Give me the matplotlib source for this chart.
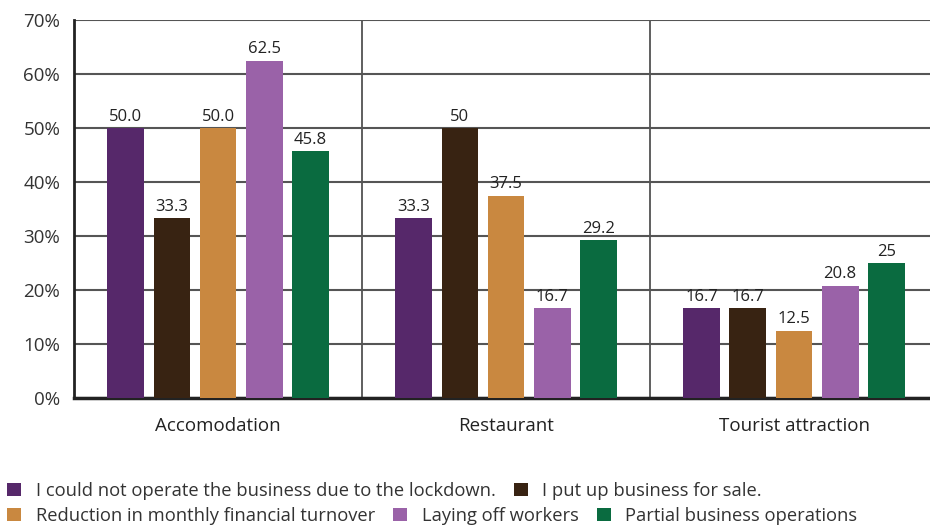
import numpy as np
import matplotlib.pyplot as plt
from matplotlib.patches import Patch

plt.rcParams['font.family'] = ['Open Sans', 'DejaVu Sans']

categorias = ['Accomodation', 'Restaurant', 'Tourist attraction']
series = [
    'I could not operate the business due to the lockdown.',
    'I put up business for sale.',
    'Reduction in monthly financial turnover',
    'Laying off workers',
    'Partial business operations',
]
valores = [
    [50.0, 33.3, 16.7],
    [33.3, 50.0, 16.7],
    [50.0, 37.5, 12.5],
    [62.5, 16.7, 20.8],
    [45.8, 29.2, 25.0],
]
rotulos = [
    ['50.0', '33.3', '16.7'],
    ['33.3', '50', '16.7'],
    ['50.0', '37.5', '12.5'],
    ['62.5', '16.7', '20.8'],
    ['45.8', '29.2', '25'],
]
cores = ['#56286A', '#382312', '#C98840', '#9A62A8', '#0A6B40']

fig = plt.figure(figsize=(9.3, 5.27), dpi=100)
ax = fig.add_axes([0.0796, 0.2448, 0.929, 0.717])

x = np.arange(len(categorias))
passo = 0.16
largura = 0.128
for i, (vals, labs) in enumerate(zip(valores, rotulos)):
    pos = x + (i - 2) * passo
    ax.bar(pos, vals, width=largura, color=cores[i], zorder=3)
    for px, v, t in zip(pos, vals, labs):
        ax.text(px, v + 0.6, t, ha='center', va='bottom', fontsize=12,
                color='#222222', zorder=4)

ax.set_xlim(-0.5, 2.5)
ax.set_ylim(0, 70)
ax.set_yticks(np.arange(0, 71, 10))
ax.set_yticklabels([f'{v}%' for v in range(0, 71, 10)], fontsize=13.5, color='#333333')
ax.set_xticks(x)
ax.set_xticklabels(categorias, fontsize=13.5, color='#222222')
ax.tick_params(axis='x', length=0, pad=14)
ax.tick_params(axis='y', length=0, pad=10)

ax.grid(axis='y', color='#555555', linewidth=1.5, zorder=0)
for b in [0.5, 1.5]:
    ax.axvline(b, color='#444444', linewidth=1.2, zorder=0)

for s in ['top', 'right']:
    ax.spines[s].set_visible(False)
ax.spines['left'].set_linewidth(2)
ax.spines['bottom'].set_linewidth(2.5)
ax.spines['left'].set_color('#222222')
ax.spines['bottom'].set_color('#222222')

alcas = [Patch(facecolor=c) for c in cores]
kw = dict(frameon=False, fontsize=13.2, handlelength=0.75, handleheight=0.75,
          handletextpad=0.8, columnspacing=1.0, borderaxespad=0,
          labelcolor='#333333')
fig.legend(alcas[:2], series[:2], loc='center left', bbox_to_anchor=(0.0, 0.068),
           ncol=2, **kw)
fig.legend(alcas[2:], series[2:], loc='center left', bbox_to_anchor=(0.0, 0.021),
           ncol=3, **kw)

fig.savefig('out.png', dpi=100)
